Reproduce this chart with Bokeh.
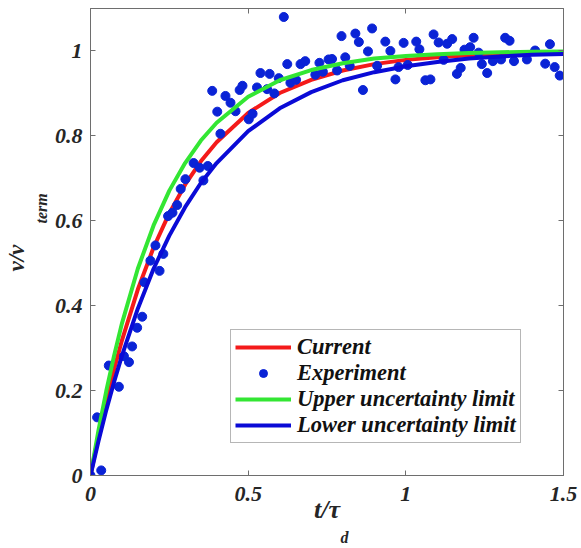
from bokeh.plotting import figure
from bokeh.models import Range1d, LinearAxis, FixedTicker, Legend, LegendItem, Title
from bokeh.embed import file_html
from bokeh.resources import INLINE

# ---- data ----
t_curve = [0, 0.025, 0.05, 0.075, 0.1, 0.15, 0.2, 0.25, 0.3, 0.35, 0.4,
           0.5, 0.6, 0.7, 0.8, 0.9, 1.0, 1.1, 1.2, 1.3, 1.4, 1.5]
current = [0, 0.092, 0.175, 0.251, 0.319, 0.438, 0.537, 0.618, 0.685, 0.740, 0.785,
           0.854, 0.901, 0.932, 0.954, 0.969, 0.979, 0.985, 0.990, 0.993, 0.995, 0.997]
upper = [0, 0.105, 0.199, 0.283, 0.359, 0.487, 0.589, 0.671, 0.736, 0.789, 0.831,
         0.892, 0.931, 0.955, 0.971, 0.982, 0.988, 0.992, 0.995, 0.997, 0.998, 0.999]
lower = [0, 0.080, 0.154, 0.221, 0.283, 0.393, 0.487, 0.565, 0.632, 0.689, 0.736,
         0.811, 0.865, 0.903, 0.931, 0.950, 0.964, 0.974, 0.982, 0.987, 0.991, 0.993]

exp_t = [0.0, 0.034, 0.021, 0.058, 0.090, 0.106, 0.122, 0.132, 0.148, 0.164,
         0.171, 0.190, 0.206, 0.219, 0.231, 0.246, 0.260, 0.275, 0.286, 0.301,
         0.327, 0.346, 0.358, 0.372, 0.386, 0.402, 0.412, 0.428, 0.444, 0.460,
         0.473, 0.482, 0.502, 0.514, 0.528, 0.539, 0.560, 0.568, 0.583, 0.597,
         0.613, 0.624, 0.634, 0.652, 0.666, 0.681, 0.713, 0.726, 0.737, 0.755,
         0.766, 0.782, 0.808, 0.822, 0.796, 0.840, 0.851, 0.893, 0.880, 0.864,
         0.909, 0.935, 0.951, 0.967, 0.977, 0.993, 1.006, 1.033, 1.043, 1.062,
         1.078, 1.088, 1.104, 1.120, 1.131, 1.147, 1.162, 1.174, 1.186, 1.204,
         1.215, 1.231, 1.241, 1.258, 1.276, 1.302, 1.315, 1.329, 1.343, 1.384,
         1.410, 1.442, 1.457, 1.472, 1.488]
exp_v = [0.0, 0.012, 0.137, 0.259, 0.209, 0.281, 0.267, 0.304, 0.348, 0.374,
         0.455, 0.506, 0.542, 0.482, 0.522, 0.611, 0.619, 0.637, 0.675, 0.698,
         0.736, 0.725, 0.695, 0.729, 0.906, 0.857, 0.805, 0.894, 0.878, 0.858,
         0.908, 0.918, 0.839, 0.852, 0.914, 0.948, 0.910, 0.946, 0.900, 0.936,
         1.080, 0.969, 0.925, 0.932, 0.969, 0.976, 0.944, 0.972, 0.951, 0.980,
         0.981, 0.954, 0.985, 0.965, 1.035, 1.041, 1.021, 1.053, 0.999, 0.908,
         0.965, 1.022, 1.000, 0.933, 0.962, 1.019, 0.967, 1.022, 1.004, 0.931,
         0.933, 1.039, 1.020, 0.979, 1.017, 1.028, 0.946, 0.960, 1.003, 1.009,
         1.031, 0.996, 0.969, 0.948, 0.976, 0.980, 1.031, 1.024, 0.976, 0.980,
         1.001, 0.970, 1.016, 0.962, 0.942]

x_ticks = [0, 0.5, 1, 1.5]
x_tick_labels = ["0", "0.5", "1", "1.5"]
y_ticks = [0, 0.2, 0.4, 0.6, 0.8, 1]
y_tick_labels = ["0", "0.2", "0.4", "0.6", "0.8", "1"]
legend_labels = ["Current", "Experiment", "Upper uncertainty limit", "Lower uncertainty limit"]
x_label_main, x_label_sub = "t/\u03c4", "d"
y_label_main, y_label_sub = "v/v", "term"

RED = "#f41a1a"
GREEN = "#33e633"
BLUE = "#0a0ad6"
DOT = "#0a23d6"
AXC = "#6e6e6e"
TXT = "#262626"
FONT = "Liberation Serif"

p = figure(width=581, height=548, output_backend="svg", toolbar_location=None,
           x_range=Range1d(0, 1.5), y_range=Range1d(0, 1.1),
           min_border_left=90, min_border_right=18, min_border_top=8, min_border_bottom=73)
p.background_fill_color = "white"
p.border_fill_color = "white"
p.grid.visible = False
p.outline_line_color = AXC
p.outline_line_width = 1

def style_axis(ax, ticks, labels, show):
    ax.ticker = FixedTicker(ticks=ticks)
    ax.major_label_overrides = {k: (l if show else "") for k, l in zip(ticks, labels)}
    ax.axis_line_color = AXC
    ax.major_tick_line_color = AXC
    ax.major_tick_in = 5
    ax.major_tick_out = 0
    ax.minor_tick_line_color = None
    ax.major_label_text_font = FONT
    ax.major_label_text_font_style = "bold italic"
    ax.major_label_text_font_size = "22px" if show else "1px"
    ax.major_label_text_color = TXT

style_axis(p.xaxis[0], x_ticks, x_tick_labels, True)
style_axis(p.yaxis[0], y_ticks, y_tick_labels, True)
p.xaxis[0].major_label_standoff = 11
p.yaxis[0].major_label_standoff = 8

# x axis label (main part) through the axis itself
p.xaxis[0].axis_label = x_label_main
p.xaxis[0].axis_label_text_font = FONT
p.xaxis[0].axis_label_text_font_style = "bold italic"
p.xaxis[0].axis_label_text_font_size = "26px"
p.xaxis[0].axis_label_text_color = TXT
p.xaxis[0].axis_label_standoff = -9

top_ax = LinearAxis()
style_axis(top_ax, x_ticks, x_tick_labels, False)
top_ax.major_label_standoff = 0
p.add_layout(top_ax, "above")
right_ax = LinearAxis()
style_axis(right_ax, y_ticks, y_tick_labels, False)
right_ax.major_label_standoff = 0
p.add_layout(right_ax, "right")

# subscripts / y label pieces as side titles
t_d = Title(text=x_label_sub, align="left", offset=250, standoff=0,
            text_font=FONT, text_font_style="bold italic", text_font_size="16px",
            text_color=TXT)
p.add_layout(t_d, "below")
t_term = Title(text=y_label_sub, align="left", offset=252, standoff=4,
               text_font=FONT, text_font_style="bold italic", text_font_size="16px",
               text_color=TXT)
p.add_layout(t_term, "left")
t_vv = Title(text=y_label_main, align="left", offset=204, standoff=0,
             text_font=FONT, text_font_style="bold italic", text_font_size="23px",
             text_color=TXT)
p.add_layout(t_vv, "left")

r_cur = p.line(t_curve, current, line_color=RED, line_width=4)
r_exp = p.scatter(exp_t, exp_v, size=9, fill_color=DOT, line_color=DOT)
r_up = p.line(t_curve, upper, line_color=GREEN, line_width=4)
r_lo = p.line(t_curve, lower, line_color=BLUE, line_width=4)

legend = Legend(items=[LegendItem(label=legend_labels[0], renderers=[r_cur]),
                       LegendItem(label=legend_labels[1], renderers=[r_exp]),
                       LegendItem(label=legend_labels[2], renderers=[r_up]),
                       LegendItem(label=legend_labels[3], renderers=[r_lo])],
                location=(140, 32))
legend.label_text_font = FONT
legend.label_text_font_style = "bold italic"
legend.label_text_font_size = "22.5px"
legend.label_text_color = "#111111"
legend.glyph_width = 56
legend.glyph_height = 20
legend.label_height = 20
legend.spacing = 0
legend.padding = 4
legend.margin = 0
legend.label_standoff = 6
legend.border_line_color = AXC
legend.border_line_width = 1
legend.background_fill_alpha = 1
p.add_layout(legend, "center")

open("out.html", "w").write(file_html(p, INLINE))
